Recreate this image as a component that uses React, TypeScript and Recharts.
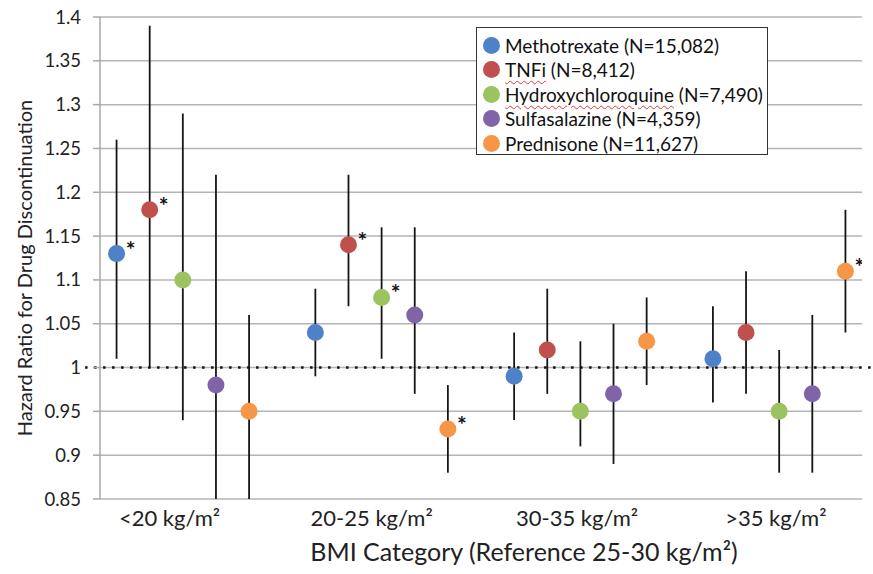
import React from "react";
import {
  CartesianGrid,
  ErrorBar,
  Legend,
  ReferenceLine,
  Scatter,
  ScatterChart,
  XAxis,
  YAxis
} from "recharts";

const categories = ["<20 kg/m²", "20-25 kg/m²", "30-35 kg/m²", ">35 kg/m²"];
const categoryTickX = [2.1, 8.2, 14.4, 20.4];
const yTicks = [0.85, 0.9, 0.95, 1, 1.05, 1.1, 1.15, 1.2, 1.25, 1.3, 1.35, 1.4];

const drugNames = ["Methotrexate", "TNFi", "Hydroxychloroquine", "Sulfasalazine", "Prednisone"];
const drugCounts = ["15,082", "8,412", "7,490", "4,359", "11,627"];
const drugColors = ["#4f81c9", "#c0504d", "#9bc35f", "#8064a8", "#f79646"];
const spellFlagged = [false, true, true, false, false];

// hazard ratio, 95% CI per BMI category
const methotrexateHR = [1.13, 1.04, 0.99, 1.01];
const methotrexateLow = [1.01, 0.99, 0.94, 0.96];
const methotrexateHigh = [1.26, 1.09, 1.04, 1.07];
const methotrexateSig = [true, false, false, false];

const tnfiHR = [1.18, 1.14, 1.02, 1.04];
const tnfiLow = [1.0, 1.07, 0.97, 0.97];
const tnfiHigh = [1.39, 1.22, 1.09, 1.11];
const tnfiSig = [true, true, false, false];

const hcqHR = [1.1, 1.08, 0.95, 0.95];
const hcqLow = [0.94, 1.01, 0.91, 0.88];
const hcqHigh = [1.29, 1.16, 1.03, 1.02];
const hcqSig = [false, true, false, false];

const sszHR = [0.98, 1.06, 0.97, 0.97];
const sszLow = [0.85, 0.97, 0.89, 0.88];
const sszHigh = [1.22, 1.16, 1.05, 1.06];
const sszSig = [false, false, false, false];

const predHR = [0.95, 0.93, 1.03, 1.11];
const predLow = [0.85, 0.88, 0.98, 1.04];
const predHigh = [1.06, 0.98, 1.08, 1.18];
const predSig = [false, true, false, true];

const seriesValues = [
  { hr: methotrexateHR, low: methotrexateLow, high: methotrexateHigh, sig: methotrexateSig },
  { hr: tnfiHR, low: tnfiLow, high: tnfiHigh, sig: tnfiSig },
  { hr: hcqHR, low: hcqLow, high: hcqHigh, sig: hcqSig },
  { hr: sszHR, low: sszLow, high: sszHigh, sig: sszSig },
  { hr: predHR, low: predLow, high: predHigh, sig: predSig }
];

const font = "Lato, 'Open Sans', sans-serif";

function buildSeries(drugIndex: number) {
  const s = seriesValues[drugIndex];
  return categories.map((cat, g) => ({
    category: cat,
    x: g * 6 + drugIndex + 0.5,
    y: s.hr[g],
    err: [s.hr[g] - s.low[g], s.high[g] - s.hr[g]],
    sig: s.sig[g]
  }));
}

function Dot(props: any) {
  const { cx, cy, fill, payload } = props;
  return (
    <g>
      <circle cx={cx} cy={cy} r={8.5} fill={fill} />
      {payload.sig && (
        <text x={cx + 14} y={cy + 4} textAnchor="middle" fontSize={23} fontWeight={700} fill="#111" fontFamily={font}>
          *
        </text>
      )}
    </g>
  );
}

function CategoryTick(props: any) {
  const { x, y, payload } = props;
  const idx = categoryTickX.indexOf(payload.value);
  return (
    <text x={x} y={y + 19} textAnchor="middle" fontSize={22} fill="#222" fontFamily={font}>
      {categories[idx]}
    </text>
  );
}

function LegendBox() {
  return (
    <div
      style={{
        border: "1.5px solid #333",
        background: "#fff",
        padding: "5px 0 3px 0",
        fontFamily: font,
        fontSize: 19,
        color: "#111",
        boxSizing: "border-box",
        width: 292,
        height: 128
      }}
    >
      {drugNames.map((name, i) => (
        <div key={name} style={{ display: "flex", alignItems: "center", height: 24.5 }}>
          <span
            style={{
              display: "inline-block",
              width: 17,
              height: 17,
              borderRadius: "50%",
              background: drugColors[i],
              marginLeft: 6,
              marginRight: 5
            }}
          />
          <span
            style={
              spellFlagged[i]
                ? { textDecoration: "underline wavy #e23b3b", textDecorationThickness: 1, textUnderlineOffset: 3 }
                : undefined
            }
          >
            {name}
          </span>
          <span style={{ whiteSpace: "pre" }}>{` (N=${drugCounts[i]})`}</span>
        </div>
      ))}
    </div>
  );
}

export default function App() {
  return (
    <div style={{ position: "absolute", left: 0, top: 0, width: 873, height: 574, background: "#fff", fontFamily: font }}>
      <ScatterChart width={873} height={574} margin={{ top: 17, right: 11, bottom: 0, left: 0 }}>
        <CartesianGrid vertical={false} stroke="#b4b4b4" strokeWidth={1.5} />
        <XAxis
          type="number"
          dataKey="x"
          domain={[0, 23]}
          ticks={categoryTickX}
          tick={<CategoryTick />}
          axisLine={false}
          tickLine={false}
          height={75}
          allowDataOverflow
          label={{
            content: () => (
              <text x={524} y={561} textAnchor="middle" fontSize={25} fill="#222" fontFamily={font}>
                BMI Category (Reference 25-30 kg/m²)
              </text>
            )
          }}
        />
        <YAxis
          type="number"
          dataKey="y"
          domain={[0.85, 1.4]}
          ticks={yTicks}
          interval={0}
          allowDataOverflow
          width={100}
          axisLine={{ stroke: "#a8a8a8", strokeWidth: 1.5 }}
          tickLine={{ stroke: "#a8a8a8", strokeWidth: 1.5 }}
          tickSize={7}
          tickMargin={12}
          tick={{ fontSize: 18.5, fill: "#222", fontFamily: font }}
          label={{
            content: (p: any) => {
              const vb = p.viewBox || { x: 0, y: 17, width: 100, height: 482 };
              const cy = vb.y + vb.height / 2 + 10;
              return (
                <text
                  x={24}
                  y={cy}
                  transform={`rotate(-90, 24, ${cy})`}
                  textAnchor="middle"
                  dominantBaseline="central"
                  fontSize={20}
                  fill="#222"
                  fontFamily={font}
                >
                  Hazard Ratio for Drug Discontinuation
                </text>
              );
            }
          }}
        />
        <ReferenceLine
          segment={[
            { x: -0.45, y: 1 },
            { x: 23.33, y: 1 }
          ]}
          ifOverflow="visible"
          stroke="#111"
          strokeWidth={2.5}
          strokeDasharray="2.5 6.5"
        />
        {drugNames.map((name, i) => (
          <Scatter
            key={name}
            name={name}
            data={buildSeries(i)}
            fill={drugColors[i]}
            shape={<Dot />}
            isAnimationActive={false}
          >
            <ErrorBar dataKey="err" direction="y" width={0} stroke="#151515" strokeWidth={1.8} />
          </Scatter>
        ))}
        <Legend
          layout="vertical"
          align="center"
          verticalAlign="middle"
          content={() => <LegendBox />}
          wrapperStyle={{ position: "absolute", left: 476, top: 27, width: 292, height: 128 }}
        />
      </ScatterChart>
    </div>
  );
}
